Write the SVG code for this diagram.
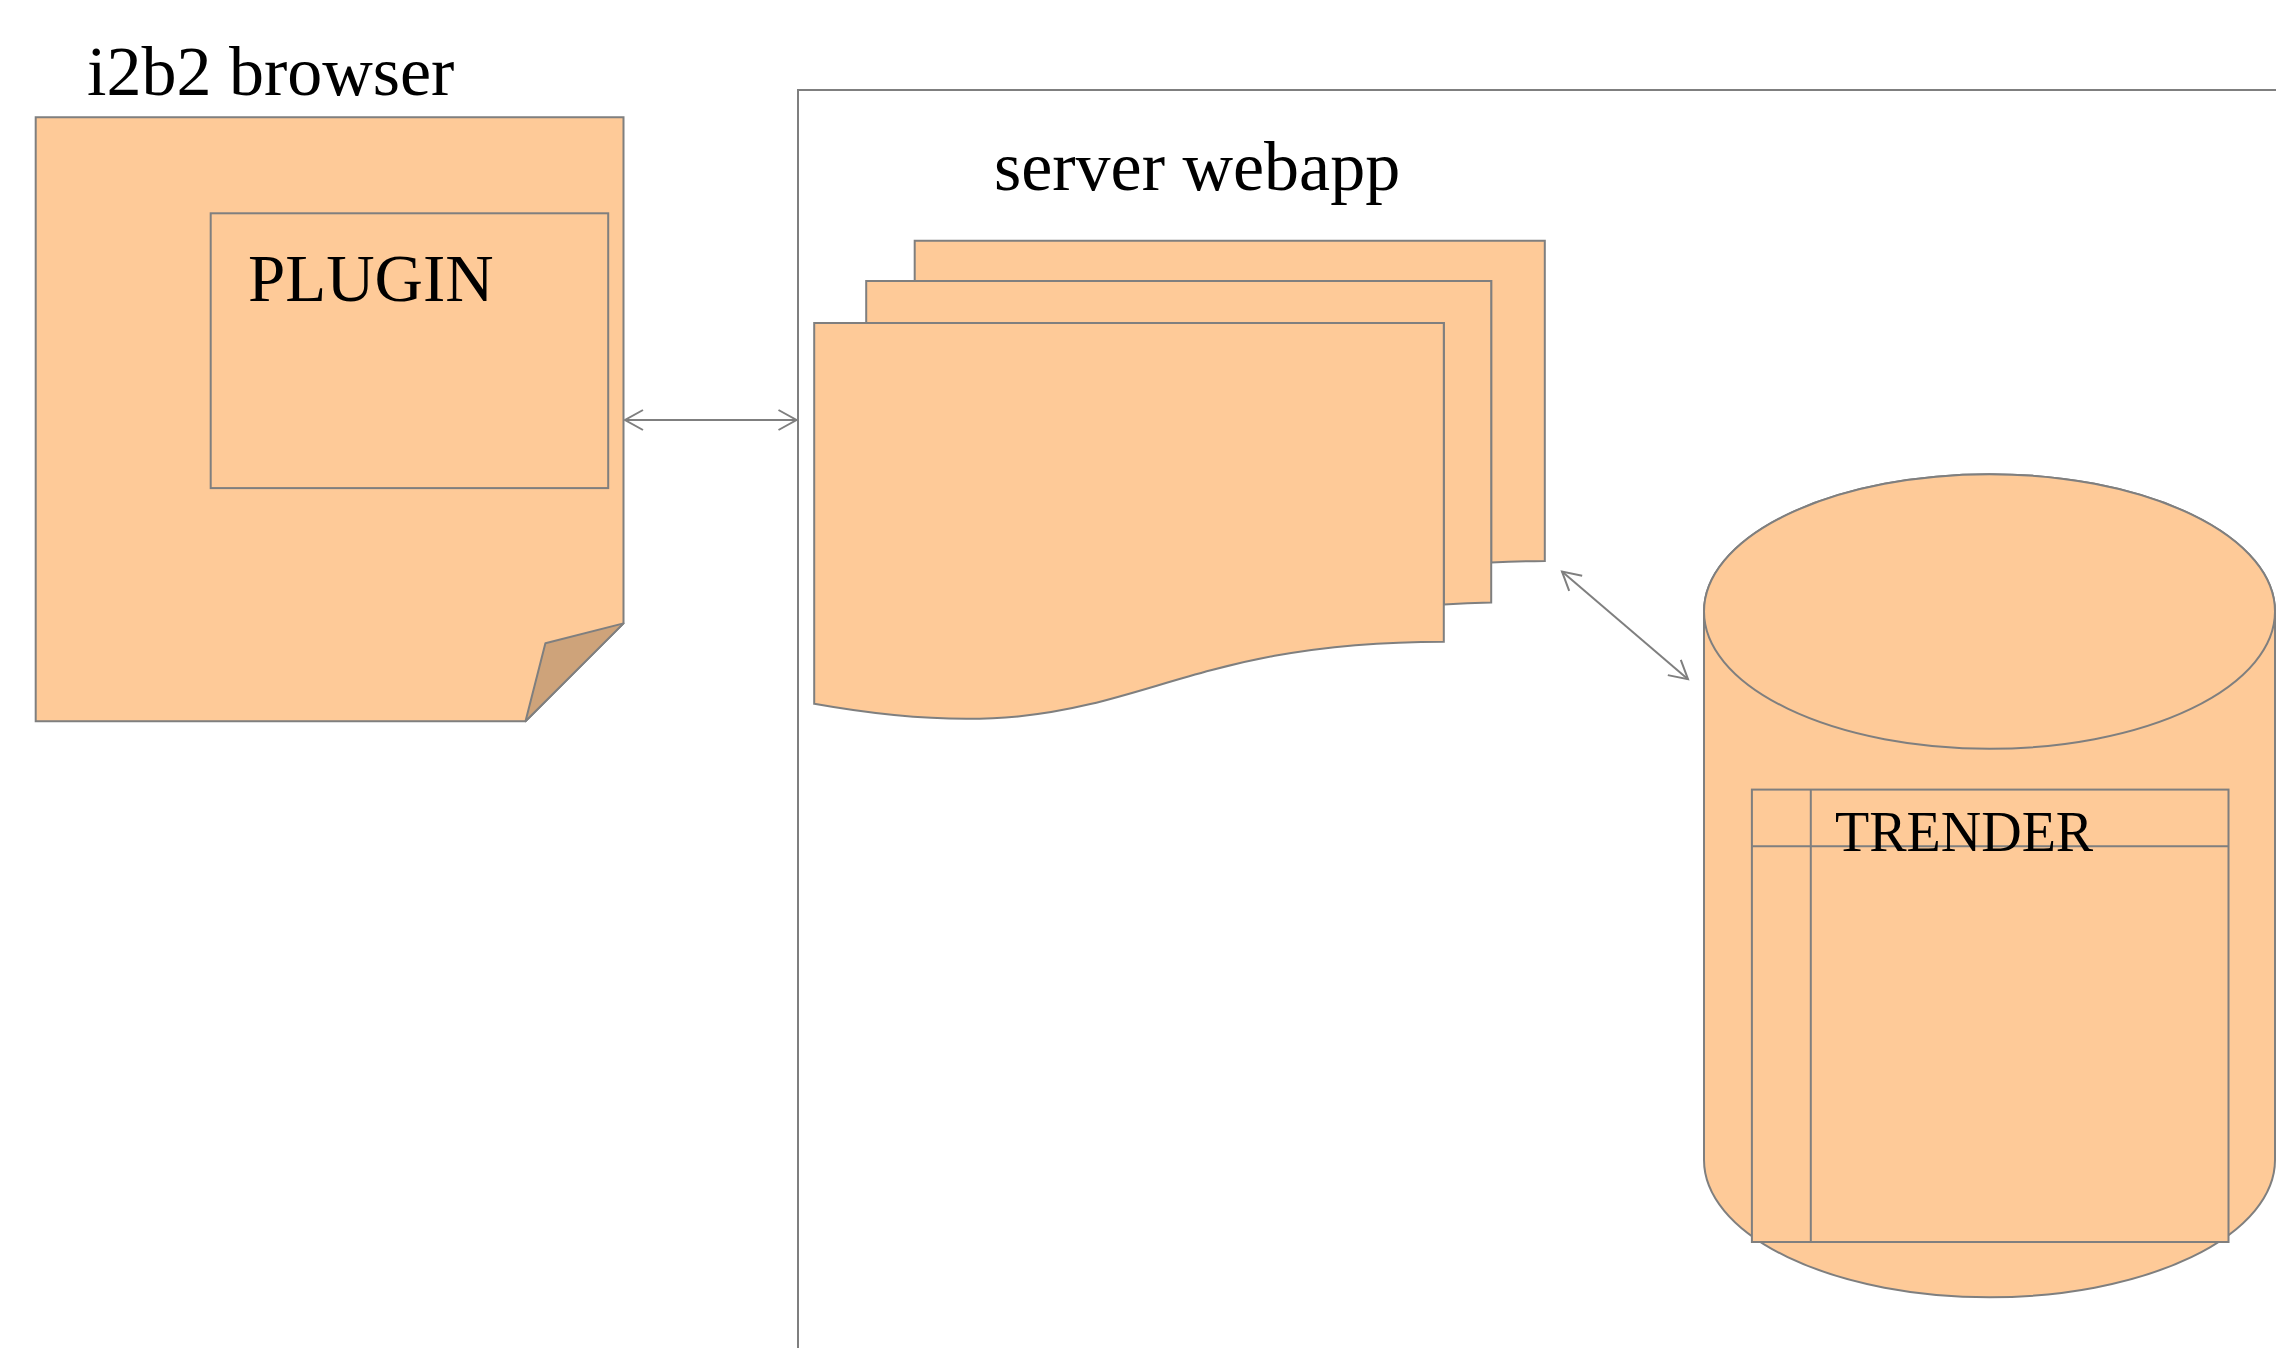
<svg xmlns="http://www.w3.org/2000/svg" width="2276" height="1348" viewBox="0 0 2276 1348">
<style>
.shape{fill:#FECA98;stroke:#7F7F7F;stroke-width:2;stroke-linejoin:miter}
.line{fill:none;stroke:#7F7F7F;stroke-width:2}
.fold{fill:#CEA37A;stroke:#7F7F7F;stroke-width:2;stroke-linejoin:round}
.t{font-family:"Liberation Serif","Times New Roman",serif;fill:#000}
</style>
<defs>
<marker id="arr" markerUnits="userSpaceOnUse" markerWidth="24" markerHeight="24" viewBox="-20 -12 22 24" refX="0" refY="0" orient="auto-start-reverse">
<path d="M-18,-10 L0,0 L-18,10" fill="none" stroke="#7F7F7F" stroke-width="2"/>
</marker>
</defs>
<rect width="2276" height="1348" fill="#fff"/>
<g id="server-webapp">
<rect x="798" y="90" width="1600" height="1400" class="line"/>
<text class="t" x="994" y="190" font-size="70">server webapp</text>
</g>
<g id="i2b2-browser">
<text class="t" x="87" y="94.5" font-size="70">i2b2 browser</text>
<path class="shape" d="M35.7,117.3 H623.5 V623.4 L525.5,721.3 H35.7 Z"/>
<path class="fold" d="M623.5,623.4 L545.4,643.2 L525.5,721.3 Z"/>
</g>
<g id="plugin">
<rect class="shape" x="210.7" y="213.3" width="397.5" height="274.8"/>
<text class="t" x="248" y="300.5" font-size="67">PLUGIN</text>
</g>
<g id="documents">
<path class="shape" d="M914.7,281 V240.8 H1544.8 V560.9 Q1518,561.3 1491.2,562.6 V281 Z"/>
<path class="shape" d="M866.2,323 V281 H1491.2 V602.4 Q1467,602.9 1443.8,604.6 V323 Z"/>
<path class="shape" d="M814.2,323 H1443.8 V641.7 C1129,641.7 1129,760 814.2,703.8 Z"/>
</g>
<g id="database">
<path class="shape" d="M1704,611.5 V1160 A285.5,137.3 0 0 0 2275,1160 V611.5 A285.5,137.3 0 0 0 1704,611.5 Z"/>
<ellipse class="shape" cx="1989.5" cy="611.5" rx="285.5" ry="137.3"/>
</g>
<g id="trender">
<rect class="shape" x="1751.9" y="789.6" width="476.6" height="452.4"/>
<line class="line" x1="1751.9" y1="846.2" x2="2228.5" y2="846.2"/>
<line class="line" x1="1810.8" y1="789.6" x2="1810.8" y2="1242"/>
<text class="t" x="1835" y="851" font-size="56">TRENDER</text>
</g>
<g id="connectors">
<line class="line" x1="625" y1="420" x2="796.5" y2="420" marker-start="url(#arr)" marker-end="url(#arr)"/>
<line class="line" x1="1562" y1="571.6" x2="1688" y2="679.2" marker-start="url(#arr)" marker-end="url(#arr)"/>
</g>
</svg>
